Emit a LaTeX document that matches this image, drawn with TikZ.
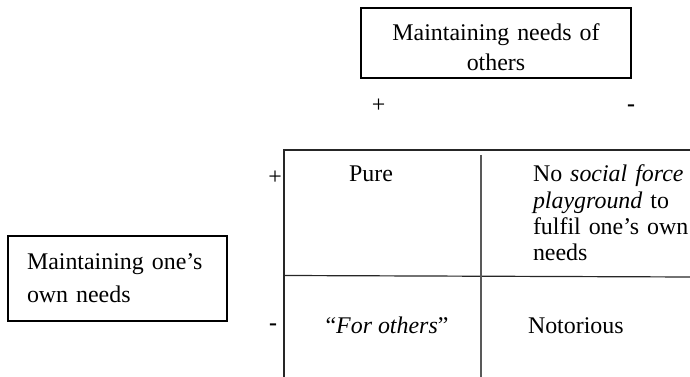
\documentclass[tikz,border=0pt]{standalone}
\usepackage{fontspec}
\setmainfont{Liberation Serif}
\begin{document}
\begin{tikzpicture}[x=0.5bp, y=-0.5bp,
  every node/.style={font=\fontsize{12}{12.75}\selectfont, inner sep=0pt, outer sep=0pt},
  box/.style={draw, line width=0.6pt},
  grid/.style={line width=0.6pt, black!85},
  midline/.style={line width=0.8pt, black!65},
  cell/.style={anchor=base west, text width=80bp, align=left},
  plussign/.style={anchor=center},
  minussign/.style={anchor=base, font=\fontsize{12}{12.75}\selectfont\bfseries}]
\useasboundingbox (0,0) rectangle (690,377);

% dimension boxes
\node[box, minimum width=135bp, minimum height=35bp] (othersbox) at (496,43) {};
\node[anchor=base, text width=130bp, align=center] (otherstext) at (496,41)
  {Maintaining needs of\\[2.25pt]others};

\node[box, minimum width=109.5bp, minimum height=42.5bp] (ownbox) at (117.5,278.5) {};
\node[anchor=base west, text width=100bp, align=left] (owntext) at (27,270)
  {Maintaining one’s\\[3.75pt]own needs};

% column signs
\node[plussign] (colplus) at (378.5,106) {+};
\node[minussign] (colminus) at (631,111.5) {-};

% row signs
\node[plussign] (rowplus) at (275,178) {+};
\node[minussign] (rowminus) at (273,331) {-};

% grid of the four cells
\coordinate (tl) at (284,150);
\coordinate (tr) at (690,150);
\coordinate (bl) at (284,377);
\coordinate (ml) at (284,275.5);
\coordinate (mr) at (690,277);
\coordinate (mt) at (481,155);
\coordinate (mb) at (481,377);
\draw[grid] (bl) -- (tl) -- (tr);
\draw[grid] (ml) -- (mr);
\draw[midline] (mt) -- (mb);

% cell contents
\node[anchor=base] (pure) at (371,182) {Pure};
\node[cell] (noforce) at (533,182)
  {No \textit{social force}\\[0.4pt]\textit{playground} to\\[0.4pt]fulfil one’s own\\[0.4pt]needs};
\node[anchor=base] (forothers) at (387,334) {“\textit{For others}”};
\node[anchor=base west] (notorious) at (528,334) {Notorious};
\end{tikzpicture}
\end{document}
